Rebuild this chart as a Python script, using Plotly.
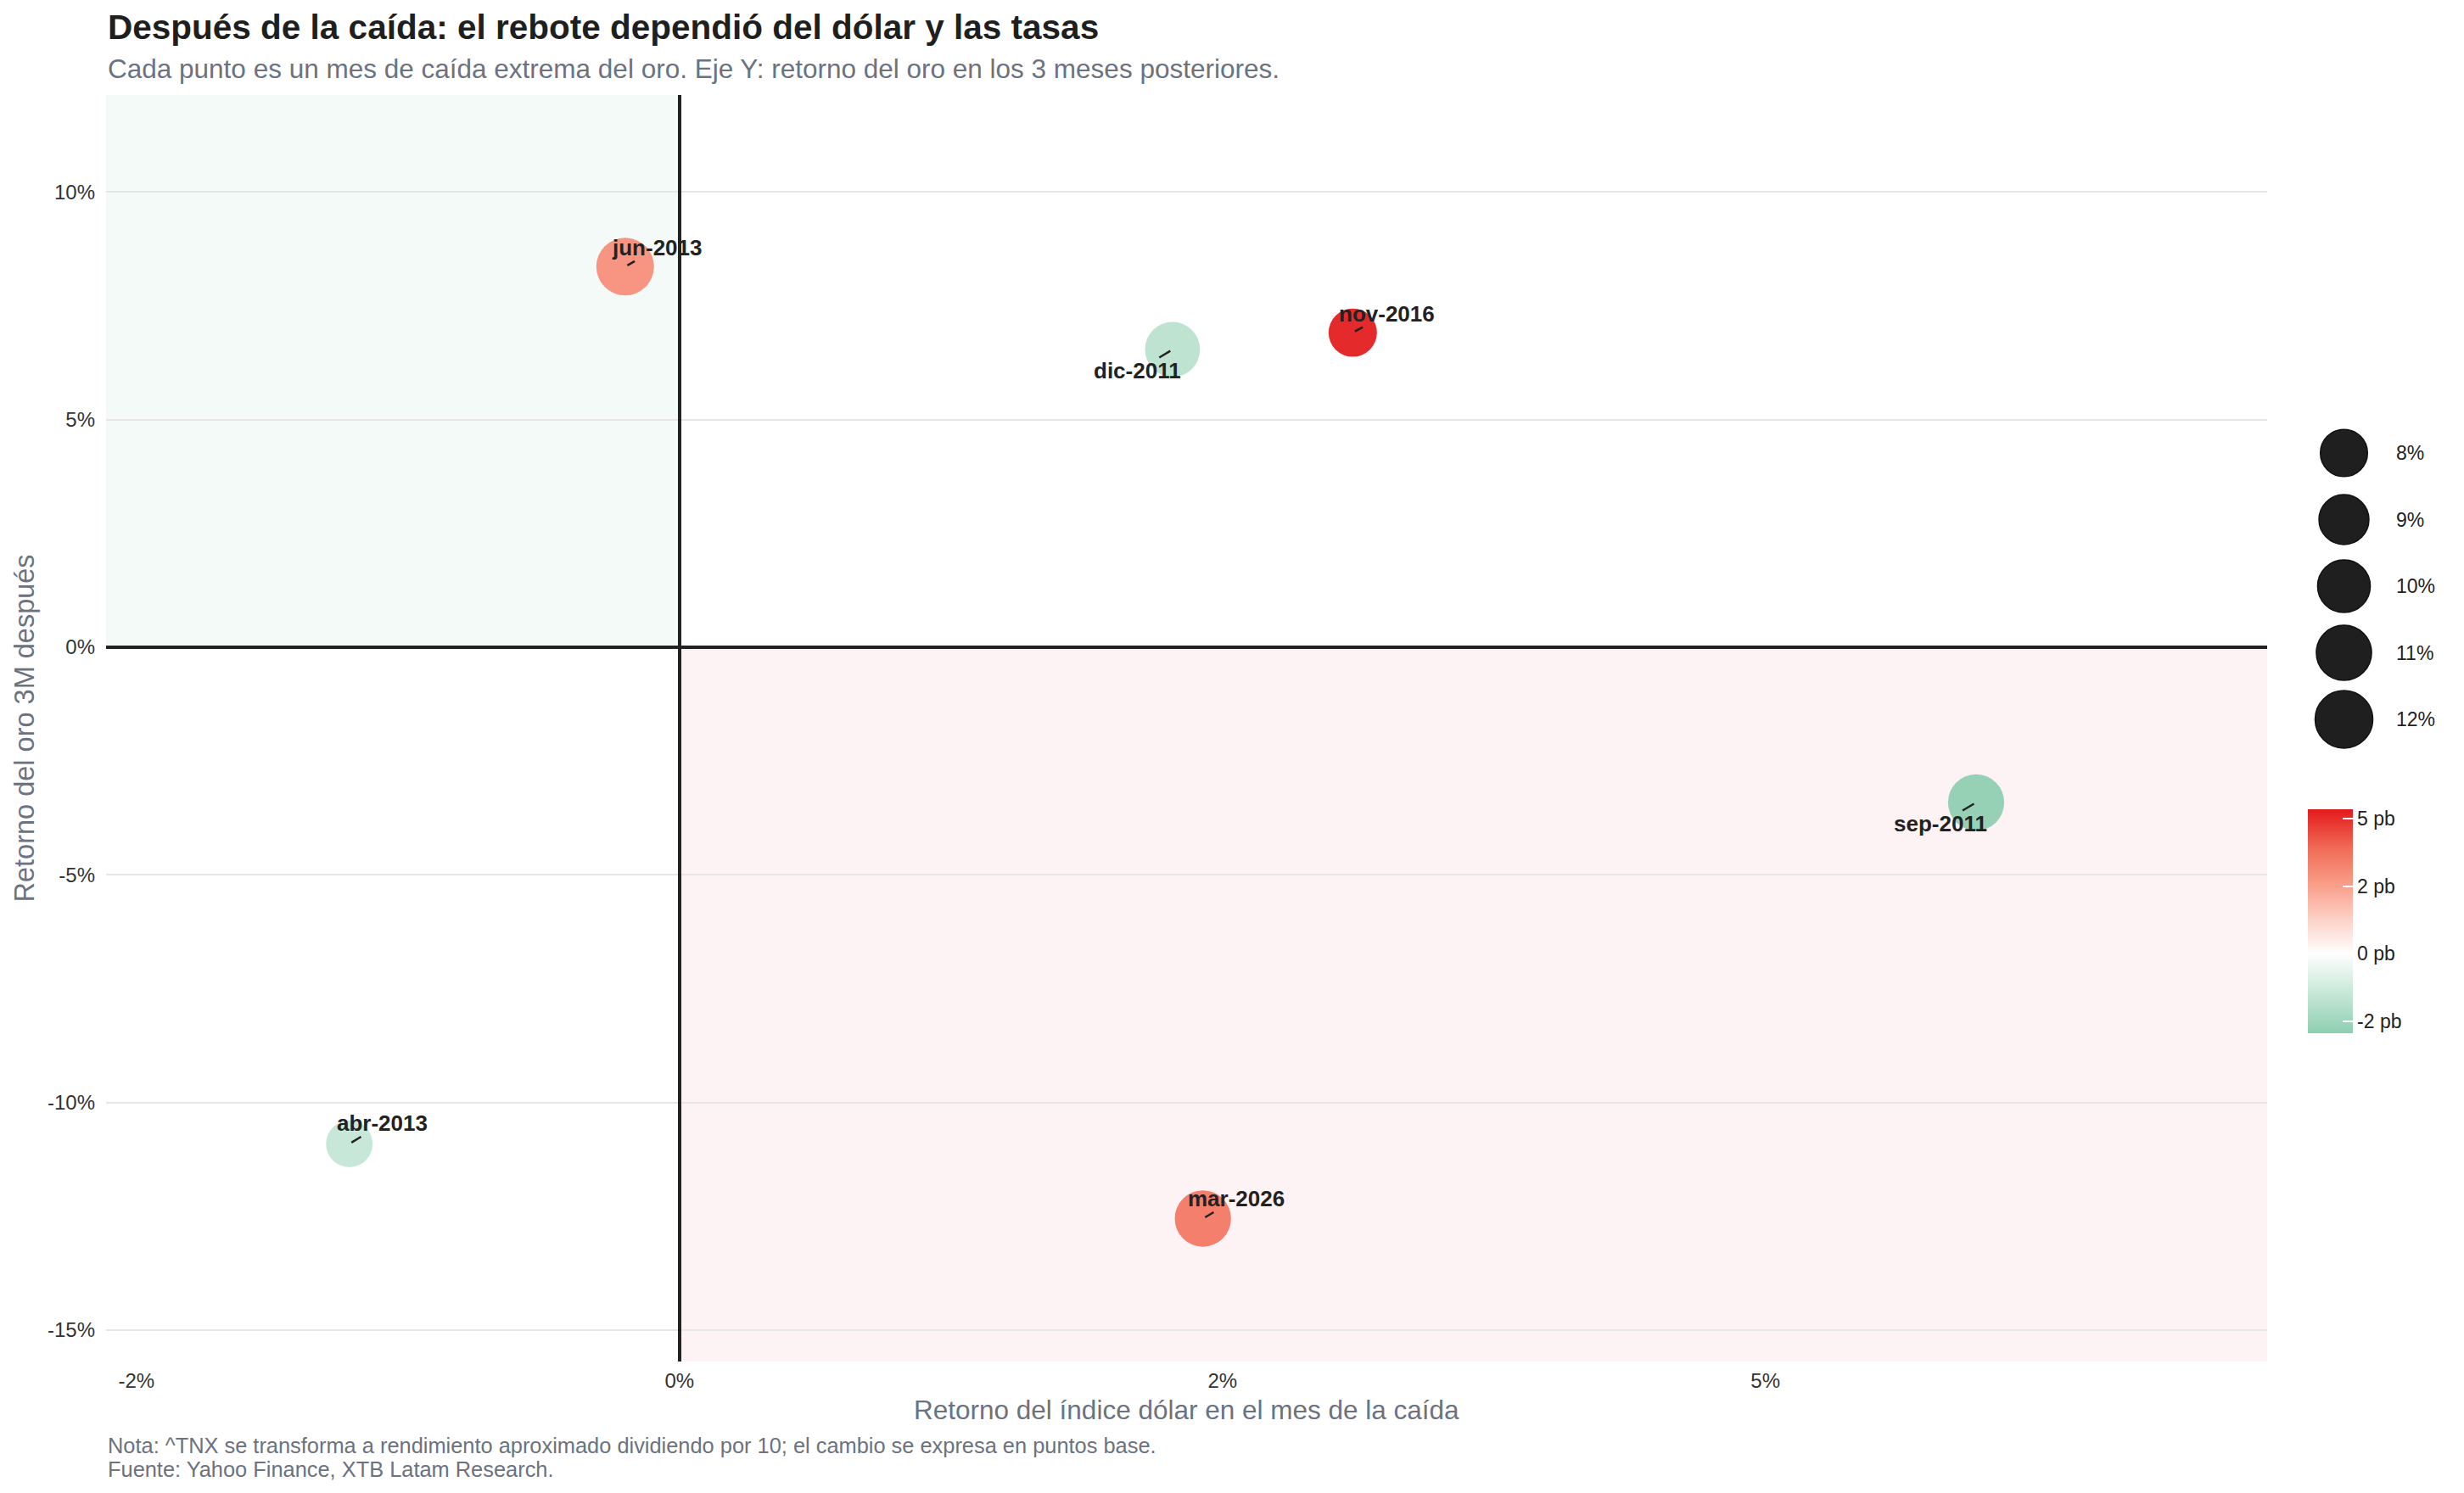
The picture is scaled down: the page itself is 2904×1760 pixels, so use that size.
import plotly.graph_objects as go
import math

# ---------------- data ----------------
labels = ["sep-2011", "dic-2011", "abr-2013", "jun-2013", "nov-2016", "mar-2026"]
usd_ret = [5.97, 2.27, -1.52, -0.25, 3.10, 2.41]          # % retorno índice dólar
gold_3m = [-3.41, 6.54, -10.91, 8.36, 6.91, -12.55]       # % retorno oro 3M después
gold_drop = [11.4, 10.9, 7.8, 12.0, 8.4, 11.4]            # % caída del oro (tamaño)
tnx_pb = [-2.94, -1.8, -1.55, 3.0, 5.34, 3.6]             # cambio ^TNX en pb (color)

x_ticks = [-2.5, 0, 2.5, 5]
x_tick_text = ["-2%", "0%", "2%", "5%"]
y_ticks = [-15, -10, -5, 0, 5, 10]
y_tick_text = ["-15%", "-10%", "-5%", "0%", "5%", "10%"]
size_legend_vals = [8, 9, 10, 11, 12]
size_legend_text = ["8%", "9%", "10%", "11%", "12%"]
cbar_ticks = [-2.5, 0, 2.5, 5]
cbar_tick_text = ["-2 pb", "0 pb", "2 pb", "5 pb"]

# ---------------- style ----------------
FONT = "Liberation Sans, Arial, sans-serif"
GRAY = "#6B7280"
DARK = "#222222"
W, H = 2904, 1760
ML, MR, MT, MB = 125, 30, 112, 155
PW = W - ML - MR
PH = H - MT - MB
plot_right_px = 2672
xdom_end = (plot_right_px - ML) / PW

X_RANGE = [-2.64, 7.31]
Y_RANGE = [-15.69, 12.13]
C_RANGE = [-2.94, 5.34]

label_offsets = [(-42, 25), (-41, 25), (39, -24), (38, -22), (40, -22), (39, -23)]


def size_px(v, v0=8.0, v1=12.0, d0=55.6, d1=68.0):
    a = d0 ** 2 + (v - v0) / (v1 - v0) * (d1 ** 2 - d0 ** 2)
    return math.sqrt(a)


zero_pos = (0 - C_RANGE[0]) / (C_RANGE[1] - C_RANGE[0])
p25 = (2.5 - C_RANGE[0]) / (C_RANGE[1] - C_RANGE[0])
colorscale = [
    [0.0, "#8ECFB0"],
    [zero_pos * 0.5, "#C6E7D7"],
    [zero_pos, "#FFFFFF"],
    [(zero_pos + p25) / 2, "#FCD2C8"],
    [p25, "#F9A08B"],
    [(p25 + 1) / 2, "#F06A55"],
    [1.0, "#E31A1C"],
]

fig = go.Figure()

# quadrant shading
fig.add_shape(type="rect", xref="x", yref="y", x0=X_RANGE[0], x1=0, y0=0, y1=Y_RANGE[1],
              fillcolor="#F3FAF7", line_width=0, layer="below")
fig.add_shape(type="rect", xref="x", yref="y", x0=0, x1=X_RANGE[1], y0=Y_RANGE[0], y1=0,
              fillcolor="#FDF2F4", line_width=0, layer="below")

fig.add_trace(go.Scatter(
    x=usd_ret, y=gold_3m, mode="markers",
    marker=dict(
        size=[size_px(v) for v in gold_drop],
        color=tnx_pb, colorscale=colorscale, cmin=C_RANGE[0], cmax=C_RANGE[1],
        opacity=0.93, line=dict(width=0),
        showscale=True,
        colorbar=dict(
            x=(2719.5 - ML) / PW, xanchor="left", xpad=0,
            y=(H - MB - 1086) / PH, yanchor="middle",
            len=264, lenmode="pixels", thickness=53, thicknessmode="pixels",
            outlinewidth=0,
            tickvals=cbar_ticks, ticktext=cbar_tick_text,
            ticks="inside", ticklen=12, tickcolor="white", tickwidth=2,
            tickfont=dict(family=FONT, size=23, color=DARK),
            ypad=0,
        ),
    ),
    text=labels, hoverinfo="text", showlegend=False, xaxis="x", yaxis="y",
))

# point labels with short leader segments
for lab, xv, yv, (ox, oy) in zip(labels, usd_ret, gold_3m, label_offsets):
    fig.add_annotation(
        x=xv, y=yv, xref="x", yref="y", text="<b>%s</b>" % lab,
        showarrow=True, arrowhead=0, arrowwidth=2.5, arrowcolor=DARK,
        ax=ox, ay=oy, standoff=3, startstandoff=0,
        font=dict(family=FONT, size=26, color=DARK), borderpad=0,
    )

# size legend (separate small axes)
leg_x0 = (2735 - ML) / PW
leg_x1 = (2790 - ML) / PW
leg_y1 = (H - MB - 494.75) / PH
leg_y0 = (H - MB - 887.25) / PH
fig.add_trace(go.Scatter(
    x=[0] * len(size_legend_vals), y=size_legend_vals, mode="markers",
    marker=dict(size=[size_px(v) for v in size_legend_vals], color="#1F1F1F", opacity=1,
                line=dict(width=1.5, color="#111111")),
    xaxis="x2", yaxis="y2", showlegend=False, hoverinfo="skip", cliponaxis=False,
))
for val, txt in zip(size_legend_vals, size_legend_text):
    fig.add_annotation(xref="paper", yref="y2", x=(2822 - ML) / PW, y=val,
                       xanchor="left", yanchor="middle", text=txt, showarrow=False,
                       font=dict(family=FONT, size=23, color=DARK))

fig.update_layout(
    width=W, height=H,
    margin=dict(l=ML, r=MR, t=MT, b=MB),
    paper_bgcolor="white", plot_bgcolor="white",
    font=dict(family=FONT, color=DARK),
    xaxis=dict(
        domain=[0, xdom_end], range=X_RANGE, showgrid=False,
        zeroline=True, zerolinecolor=DARK, zerolinewidth=3.5,
        tickvals=x_ticks, ticktext=x_tick_text, ticks="", showline=False,
        ticklabelstandoff=6,
        tickfont=dict(family=FONT, size=24, color="#333333"),
    ),
    yaxis=dict(
        range=Y_RANGE, showgrid=True, gridcolor="#E6E6E6", gridwidth=2,
        zeroline=True, zerolinecolor=DARK, zerolinewidth=3.5,
        tickvals=y_ticks, ticktext=y_tick_text, ticks="", showline=False,
        ticklabelstandoff=12,
        tickfont=dict(family=FONT, size=24, color="#333333"),
    ),
    xaxis2=dict(domain=[leg_x0, leg_x1], range=[-1, 1], visible=False, anchor="y2", fixedrange=True),
    yaxis2=dict(domain=[leg_y0, leg_y1], range=[12.5, 7.5], visible=False, anchor="x2", fixedrange=True),
)

# titles & text
fig.add_annotation(xref="paper", yref="paper", x=0, y=(H - MB - 31.5) / PH, xanchor="left", yanchor="middle",
                   text="<b>Después de la caída: el rebote dependió del dólar y las tasas</b>",
                   showarrow=False, font=dict(family=FONT, size=40.5, color="#1F1F1F"))
fig.add_annotation(xref="paper", yref="paper", x=0, y=(H - MB - 81.5) / PH, xanchor="left", yanchor="middle",
                   text="Cada punto es un mes de caída extrema del oro. Eje Y: retorno del oro en los 3 meses posteriores.",
                   showarrow=False, font=dict(family=FONT, size=31.5, color=GRAY))
fig.add_annotation(xref="paper", yref="paper", x=xdom_end / 2, y=(H - MB - 1662) / PH,
                   xanchor="center", yanchor="middle",
                   text="Retorno del índice dólar en el mes de la caída",
                   showarrow=False, font=dict(family=FONT, size=31.5, color=GRAY))
fig.add_annotation(xref="paper", yref="paper", x=(28 - ML) / PW, y=0.5,
                   xanchor="center", yanchor="middle", textangle=-90,
                   text="Retorno del oro 3M después",
                   showarrow=False, font=dict(family=FONT, size=32.5, color=GRAY))
fig.add_annotation(xref="paper", yref="paper", x=0, y=(H - MB - 1704) / PH, xanchor="left", yanchor="middle",
                   text="Nota: ^TNX se transforma a rendimiento aproximado dividiendo por 10; el cambio se expresa en puntos base.",
                   showarrow=False, font=dict(family=FONT, size=25.4, color=GRAY))
fig.add_annotation(xref="paper", yref="paper", x=0, y=(H - MB - 1732) / PH, xanchor="left", yanchor="middle",
                   text="Fuente: Yahoo Finance, XTB Latam Research.",
                   showarrow=False, font=dict(family=FONT, size=25.4, color=GRAY))

fig.write_html("out.html")
